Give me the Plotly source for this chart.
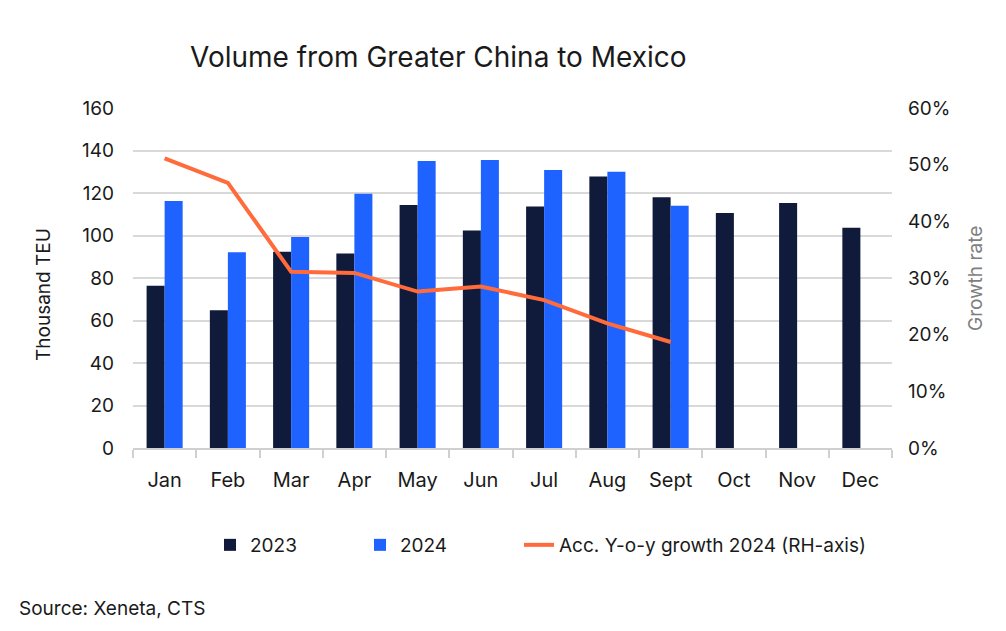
import plotly.graph_objects as go

months = ["Jan", "Feb", "Mar", "Apr", "May", "Jun", "Jul", "Aug", "Sept", "Oct", "Nov", "Dec"]
vol_2023 = [76.4, 64.8, 92.4, 91.5, 114.4, 102.3, 113.6, 127.8, 118.0, 110.6, 115.3, 103.7]
vol_2024 = [116.2, 92.1, 99.3, 119.7, 135.1, 135.5, 130.8, 130.0, 114.0, None, None, None]
growth_2024 = [0.511, 0.468, 0.311, 0.309, 0.276, 0.285, 0.261, 0.220, 0.187, None, None, None]

left_ticks = [0, 20, 40, 60, 80, 100, 120, 140, 160]
right_ticks = [0, 0.1, 0.2, 0.3, 0.4, 0.5, 0.6]

FONT = "Inter, Noto Sans, sans-serif"
TXT = "#1a1a1a"

# screen offset of the plot div (page body margin)
OFF = 8
PL, PR, PT, PB = 133, 892, 108, 448  # plot area in screen px
PW, PH = PR - PL, PB - PT


def px(x):
    return (x - PL) / PW


def py(y):
    return (PB - y) / PH


fig = go.Figure()
fig.add_trace(go.Bar(x=months, y=vol_2023, name="2023", legend="legend",
                     marker=dict(color="#101a3a", line=dict(width=0))))
fig.add_trace(go.Bar(x=months, y=vol_2024, name="2024", legend="legend2",
                     marker=dict(color="#1e62ff", line=dict(width=0))))
fig.add_trace(go.Scatter(x=months, y=growth_2024, name="Acc. Y-o-y growth 2024 (RH-axis)", mode="lines",
                         legend="legend3", line=dict(color="#ff6b3b", width=4), yaxis="y2"))

leg_common = dict(orientation="h", xref="paper", y=py(545), yref="paper", yanchor="middle",
                  xanchor="left", font=dict(size=19), bgcolor="rgba(0,0,0,0)")

fig.update_layout(
    width=1006, height=631,
    paper_bgcolor="white", plot_bgcolor="white",
    margin=dict(l=PL - OFF, r=1006 - PR + OFF, t=PT - OFF, b=631 - PB + OFF, autoexpand=False),
    barmode="group", bargap=0.43, bargroupgap=0,
    font=dict(family=FONT, size=19, color=TXT),
    title=dict(text="Volume from Greater China to Mexico", x=(190 - OFF) / 1006, xanchor="left",
               y=1 - (57 - OFF) / 631, yanchor="middle", font=dict(size=28, color=TXT)),
    xaxis=dict(showline=True, linecolor="#d0d0d0", linewidth=2, ticks="outside", tickson="boundaries",
               ticklen=8, tickcolor="#d0d0d0", tickwidth=2, showgrid=False, tickfont=dict(size=20),
               tickangle=0, automargin=False, ticklabelstandoff=13),
    yaxis=dict(range=[0, 160], tickvals=left_ticks, showgrid=True, gridcolor="#d9d9d9", gridwidth=2,
               zeroline=False, ticks="", tickfont=dict(size=19), automargin=False, ticklabelstandoff=18),
    yaxis2=dict(range=[0, 0.6], tickvals=right_ticks, tickformat=".0%", overlaying="y", side="right",
                showgrid=False, zeroline=False, ticks="", tickfont=dict(size=19), automargin=False,
                ticklabelstandoff=15),
    legend=dict(x=px(210), **leg_common),
    legend2=dict(x=px(360), **leg_common),
    legend3=dict(x=px(519), **leg_common),
    showlegend=True,
)
fig.add_annotation(text="Thousand TEU", xref="paper", yref="paper", x=px(43), y=py(295), textangle=-90,
                   xanchor="center", yanchor="middle", showarrow=False, font=dict(size=19, color=TXT))
fig.add_annotation(text="Growth rate", xref="paper", yref="paper", x=px(975), y=py(279), textangle=-90,
                   xanchor="center", yanchor="middle", showarrow=False, font=dict(size=19, color="#7f7f7f"))
fig.add_annotation(text="Source: Xeneta, CTS", xref="paper", yref="paper", x=px(17), y=py(608),
                   xanchor="left", yanchor="middle", showarrow=False, font=dict(size=19, color=TXT))

fig.write_html("out.html")
